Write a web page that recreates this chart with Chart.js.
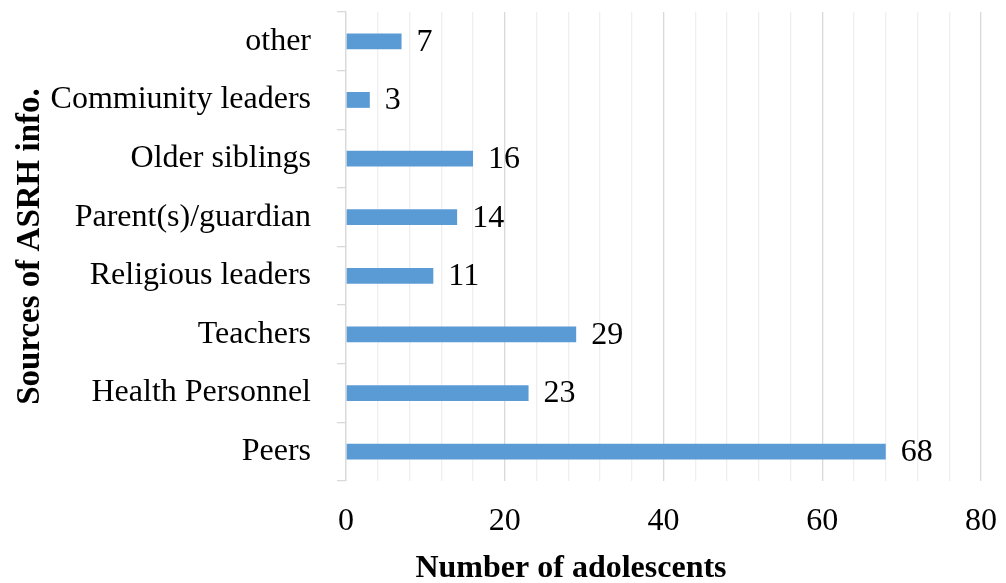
<!DOCTYPE html>
<html>
<head>
<meta charset="utf-8">
<script src="https://cdn.jsdelivr.net/npm/chart.js@4/dist/chart.umd.min.js"></script>
<style>
  body { margin: 0; background: #fff; }
  .wrap { width: 1006px; height: 583px; position: relative; }
</style>
</head>
<body>
<div class="wrap"><canvas id="myChart"></canvas></div>
<script>
// sources, top to bottom as in the picture
let sources = ["other", "Commiunity leaders", "Older siblings", "Parent(s)/guardian",
  "Religious leaders", "Teachers", "Health Personnel", "Peers"];
let counts = [7, 3, 16, 14, 11, 29, 23, 68];
let xTicks = [0, 20, 40, 60, 80];
let xTitle = "Number of adolescents";

let serif = "'Liberation Serif', 'Times New Roman', serif";

// writes the value after each bar + the x title (centred on the whole figure, not the plot)
let barValues = {
  id: "barValues",
  afterDatasetsDraw(chart) {
    let ctx = chart.ctx;
    let meta = chart.getDatasetMeta(0);
    ctx.save();
    ctx.font = "32px " + serif;
    ctx.fillStyle = "#000";
    ctx.textAlign = "left";
    ctx.textBaseline = "middle";
    meta.data.forEach((bar, i) => {
      ctx.fillText(counts[i], bar.x + 15, bar.y + 1);
    });
    ctx.font = "bold 32px " + serif;
    ctx.textAlign = "center";
    ctx.textBaseline = "alphabetic";
    ctx.fillText(xTitle, 571, 577);
    ctx.restore();
  }
};

let ctx = document.getElementById("myChart");
new Chart(ctx, {
  type: "bar",
  data: {
    labels: sources,
    datasets: [{
      data: counts,
      backgroundColor: "#5b9bd5",
      barPercentage: 0.27,
      categoryPercentage: 1
    }]
  },
  options: {
    indexAxis: "y",
    responsive: true,
    maintainAspectRatio: false,
    animation: false,
    layout: { padding: { top: 12, right: 25, left: 0, bottom: 0 } },
    plugins: { legend: { display: false }, tooltip: { enabled: false } },
    scales: {
      x: {
        min: 0,
        max: 80,
        ticks: {
          stepSize: 4,
          autoSkip: false,
          maxRotation: 0,
          padding: 21,
          color: "#000",
          font: { family: serif, size: 32 },
          callback: v => xTicks.includes(v) ? v : ""
        },
        grid: {
          drawTicks: false,
          color: c => (c.tick && c.tick.value % 20 === 0) ? "#d9d9d9" : "#efefef",
          lineWidth: 1.3
        },
        border: { display: false },
        afterFit: s => { s.height = 102; s.paddingLeft = 0; s.paddingRight = 0; }
      },
      y: {
        ticks: {
          padding: 26,
          color: "#000",
          font: { family: serif, size: 32 }
        },
        grid: {
          offset: true,
          drawOnChartArea: false,
          tickLength: 9,
          color: "#d9d9d9",
          lineWidth: 1.3
        },
        border: { display: true, color: "#d9d9d9", width: 1.3 },
        title: {
          display: true,
          text: "Sources of ASRH info.",
          color: "#000",
          font: { family: serif, size: 33, weight: "bold", lineHeight: 1 },
          padding: { top: 14, bottom: 0 }
        },
        afterFit: s => { s.width = 346; s.paddingTop = 0; s.paddingBottom = 0; }
      }
    }
  },
  plugins: [barValues]
});
</script>
</body>
</html>
